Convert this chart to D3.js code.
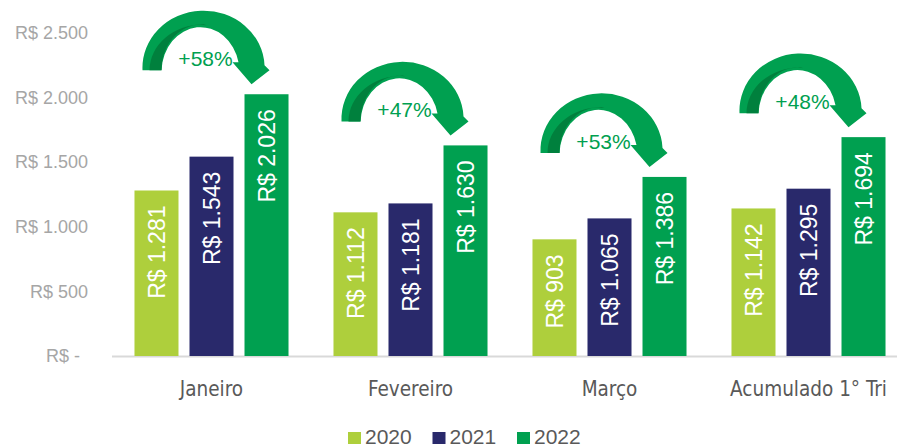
<!DOCTYPE html>
<html>
<head>
<meta charset="utf-8">
<script src="https://cdn.jsdelivr.net/npm/d3@7"></script>
<style>
  body { margin: 0; background: #fff; }
  svg { display: block; }
</style>
</head>
<body>
<div id="wrapper"></div>
<script>
// valores
const categories = ["Janeiro", "Fevereiro", "Março", "Acumulado 1° Tri"];
const years = ["2020", "2021", "2022"];
const values2020 = [1281, 1112, 903, 1142];
const values2021 = [1543, 1181, 1065, 1295];
const values2022 = [2026, 1630, 1386, 1694];
const growthLabels = ["+58%", "+47%", "+53%", "+48%"];
const yTicks = [0, 500, 1000, 1500, 2000, 2500];
const colors = ["#aecf3c", "#29296b", "#00a050"];

function buildPlot() {
    const series = [values2020, values2021, values2022];
    const data = categories.map((c, i) => ({
        cat: c,
        growth: growthLabels[i],
        vals: years.map((y, j) => ({ year: y, value: series[j][i], color: colors[j] }))
    }));

    const dimension = { width: 897, height: 447 };

    const br = d3.formatLocale({ decimal: ",", thousands: ".", grouping: [3], currency: ["R$ ", ""] });
    const fmt = br.format(",d");

    const svg = d3.select("#wrapper").append("svg")
        .attr("width", dimension.width)
        .attr("height", dimension.height);

    const yScaler = d3.scaleLinear().domain([0, 2500]).range([356, 33]);

    const x0 = d3.scaleBand().domain(categories).range([112, 908])
        .paddingInner(0.226).paddingOuter(0.113);
    const x1 = d3.scaleBand().domain(years).range([0, x0.bandwidth()]).paddingInner(0.2);

    // eixo y
    const yAxis = svg.append("g")
        .attr("transform", "translate(88,0)")
        .call(d3.axisLeft(yScaler).tickValues(yTicks).tickSize(0).tickPadding(0)
            .tickFormat(d => d === 0 ? "R$ -" : "R$ " + fmt(d)));
    yAxis.select(".domain").remove();
    yAxis.selectAll("text")
        .attr("fill", "#a6a6a6")
        .style("font-family", "'Liberation Sans', Arial, sans-serif")
        .style("font-size", "18px")
        .attr("x", d => d === 0 ? -8 : 0);

    // linha de base
    svg.append("line")
        .attr("x1", 112).attr("x2", dimension.width)
        .attr("y1", yScaler(0) + 0.5).attr("y2", yScaler(0) + 0.5)
        .attr("stroke", "#d9d9d9").attr("stroke-width", 2);

    // eixo x
    const xAxis = svg.append("g")
        .attr("transform", `translate(0,${yScaler(0)})`)
        .call(d3.axisBottom(x0).tickSize(0).tickPadding(25));
    xAxis.select(".domain").remove();
    xAxis.selectAll("text")
        .attr("fill", "#595959")
        .style("font-family", "'DejaVu Sans Condensed', 'DejaVu Sans', sans-serif")
        .style("font-stretch", "condensed")
        .style("font-size", "20.5px");

    const groups = svg.append("g").selectAll("g")
        .data(data).join("g")
        .attr("transform", d => `translate(${x0(d.cat)},0)`);

    groups.selectAll("rect")
        .data(d => d.vals).join("rect")
        .attr("x", d => x1(d.year))
        .attr("width", x1.bandwidth())
        .attr("y", d => yScaler(d.value))
        .attr("height", d => yScaler(0) - yScaler(d.value))
        .attr("fill", d => d.color);

    groups.selectAll("text.val")
        .data(d => d.vals).join("text")
        .attr("class", "val")
        .attr("transform", d => `translate(${x1(d.year) + x1.bandwidth() / 2},${yScaler(d.value) + 15}) rotate(-90)`)
        .attr("text-anchor", "end")
        .attr("dy", "0.36em")
        .attr("fill", "#fff")
        .style("font-family", "'Liberation Sans', Arial, sans-serif")
        .style("font-size", "23px")
        .text(d => "R$ " + fmt(d.value));

    // setas curvas, ancoradas no topo da barra de 2022
    const arrowPath = "M-124,-24 A61,57 0 1 1 -2,-29 L3,-24 L-15,-10 L-34,-32 L-28,-32 A39,45 0 0 0 -105,-24 Z";
    const darkPath = "M-117,-24 A54,46 0 0 1 -63,-70 L-60,-69 A39,45 0 0 0 -105,-24 Z";

    const arrows = groups.append("g")
        .attr("transform", d => {
            const last = d.vals[2];
            return `translate(${x1(last.year) + x1.bandwidth() / 2},${yScaler(last.value)})`;
        });
    arrows.append("path").attr("d", arrowPath).attr("fill", "#00a050");
    arrows.append("path").attr("d", darkPath).attr("fill", "#00803d");
    arrows.append("text")
        .attr("x", -61).attr("y", -28)
        .attr("text-anchor", "middle")
        .attr("fill", "#00a050")
        .style("font-family", "'Liberation Sans', Arial, sans-serif")
        .style("font-size", "21px")
        .text(d => d.growth);

    // legenda
    const legend = svg.append("g").selectAll("g")
        .data(years).join("g")
        .attr("transform", (d, i) => `translate(${348 + i * 84.5},0)`);
    legend.append("rect")
        .attr("y", 432).attr("width", 13).attr("height", 12)
        .attr("fill", (d, i) => colors[i]);
    legend.append("text")
        .attr("x", 17).attr("y", 444)
        .attr("fill", "#595959")
        .style("font-family", "'Liberation Sans', Arial, sans-serif")
        .style("font-size", "21px")
        .text(d => d);
}

buildPlot();
</script>
</body>
</html>
